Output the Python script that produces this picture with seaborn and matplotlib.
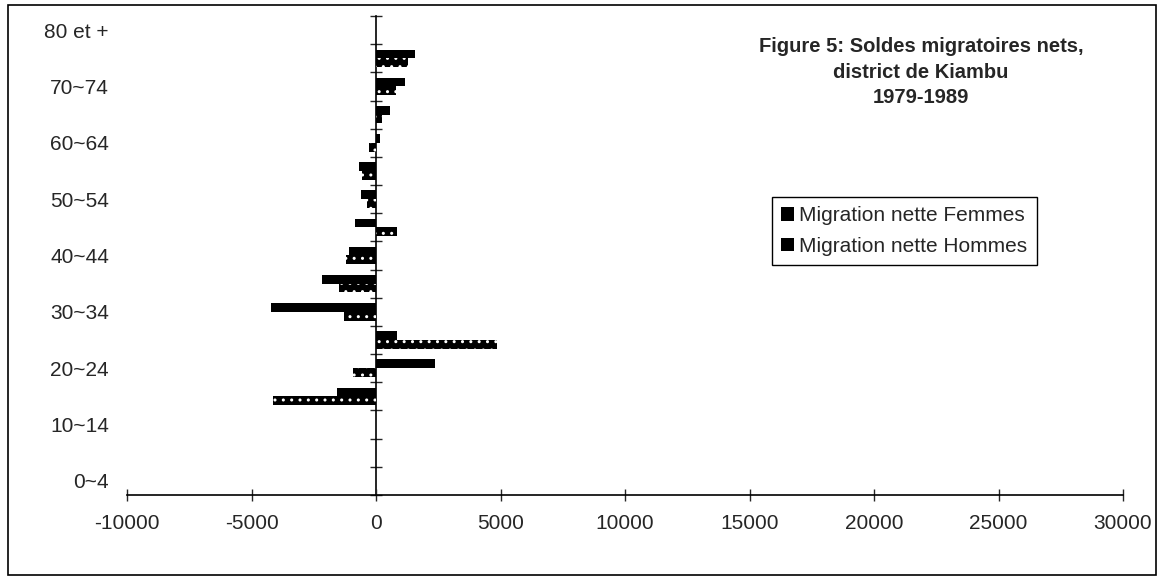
import numpy as np
import pandas as pd
import matplotlib
matplotlib.use("Agg")
import matplotlib.pyplot as plt
from matplotlib.patches import Rectangle
import seaborn as sns

# Données (haut -> bas)
groupes = ['80 et +', '75~79', '70~74', '65~69', '60~64', '55~59', '50~54',
           '45~49', '40~44', '35~39', '30~34', '25~29', '20~24', '15~19',
           '10~14', '5~9', '0~4']
femmes = [0, 1550, 1150, 550, 150, -700, -590, -860, -1090, -2180, -4200,
          850, 2350, -1550, 0, 0, 0]
hommes = [0, 1300, 800, 250, -300, -560, -360, 850, -1210, -1500, -1300,
          4850, -930, -4150, 0, 0, 0]
series = ['Migration nette Femmes', 'Migration nette Hommes']
x_ticks = list(range(-10000, 30001, 5000))

df = pd.DataFrame({
    'groupe': groupes * 2,
    'valeur': femmes + hommes,
    'serie': [series[0]] * len(groupes) + [series[1]] * len(groupes),
})

sns.set_style("white")
plt.rcParams['font.family'] = ['Liberation Sans', 'DejaVu Sans']
plt.rcParams['axes.unicode_minus'] = False
plt.rcParams['hatch.linewidth'] = 1.0

W, H = 1160, 576
fig = plt.figure(figsize=(W / 100, H / 100), dpi=100)
ax = fig.add_axes([127 / W, 1 - 495 / H, (1123 - 127) / W, (495 - 16) / H])

sns.barplot(data=df, x='valeur', y='groupe', hue='serie', order=groupes,
            hue_order=series, palette=['black', 'black'], saturation=1,
            width=0.62, gap=0, orient='h', linewidth=0, ax=ax)

# motif pointillé pour les hommes
for bar in ax.containers[1]:
    bar.set_hatch('..')
    bar.set_edgecolor('white')
    bar.set_linewidth(0)

ax.set_xlim(x_ticks[0], x_ticks[-1])
ax.set_xticks(x_ticks)
ax.set_xlabel('')
ax.set_ylabel('')
ax.set_yticks(range(0, len(groupes), 2), groupes[::2])
ax.tick_params(axis='y', length=0, pad=13, labelsize=15)
ax.tick_params(axis='x', direction='inout', length=8, width=1, pad=10,
               labelsize=15, bottom=True)
for s in ['left', 'right', 'top']:
    ax.spines[s].set_visible(False)
ax.spines['bottom'].set_color('black')
ax.spines['bottom'].set_linewidth(1.2)

# axe des catégories à x = 0
loc0 = (0 - x_ticks[0]) / (x_ticks[-1] - x_ticks[0])
sec = ax.secondary_yaxis(loc0)
sec.set_yticks(np.arange(-0.5, len(groupes), 1))
sec.tick_params(direction='inout', length=8, width=1, labelleft=False)
sec.spines['left'].set_color('black')
sec.spines['left'].set_linewidth(1.2)

handles, labels = ax.get_legend_handles_labels()
ax.legend(handles, labels, loc='upper left',
          bbox_to_anchor=(772 / W, 1 - 197 / H), bbox_transform=fig.transFigure,
          frameon=True, fancybox=False, edgecolor='black', framealpha=1,
          fontsize=15, handlelength=0.6, handleheight=0.6, handletextpad=0.25,
          borderpad=0.45, labelspacing=0.55, borderaxespad=0)
ax.get_legend().get_frame().set_linewidth(1)

fig.text(921 / W, 1 - 72 / H,
         'Figure 5: Soldes migratoires nets,\ndistrict de Kiambu\n1979-1989',
         ha='center', va='center', fontsize=14.5, fontweight='bold',
         linespacing=1.45)

fig.add_artist(Rectangle((8 / W, 1 - 575 / H), (1156 - 8) / W, (575 - 5) / H,
                         transform=fig.transFigure, fill=False,
                         edgecolor='black', linewidth=1.2))

fig.savefig('out.png', dpi=100)
